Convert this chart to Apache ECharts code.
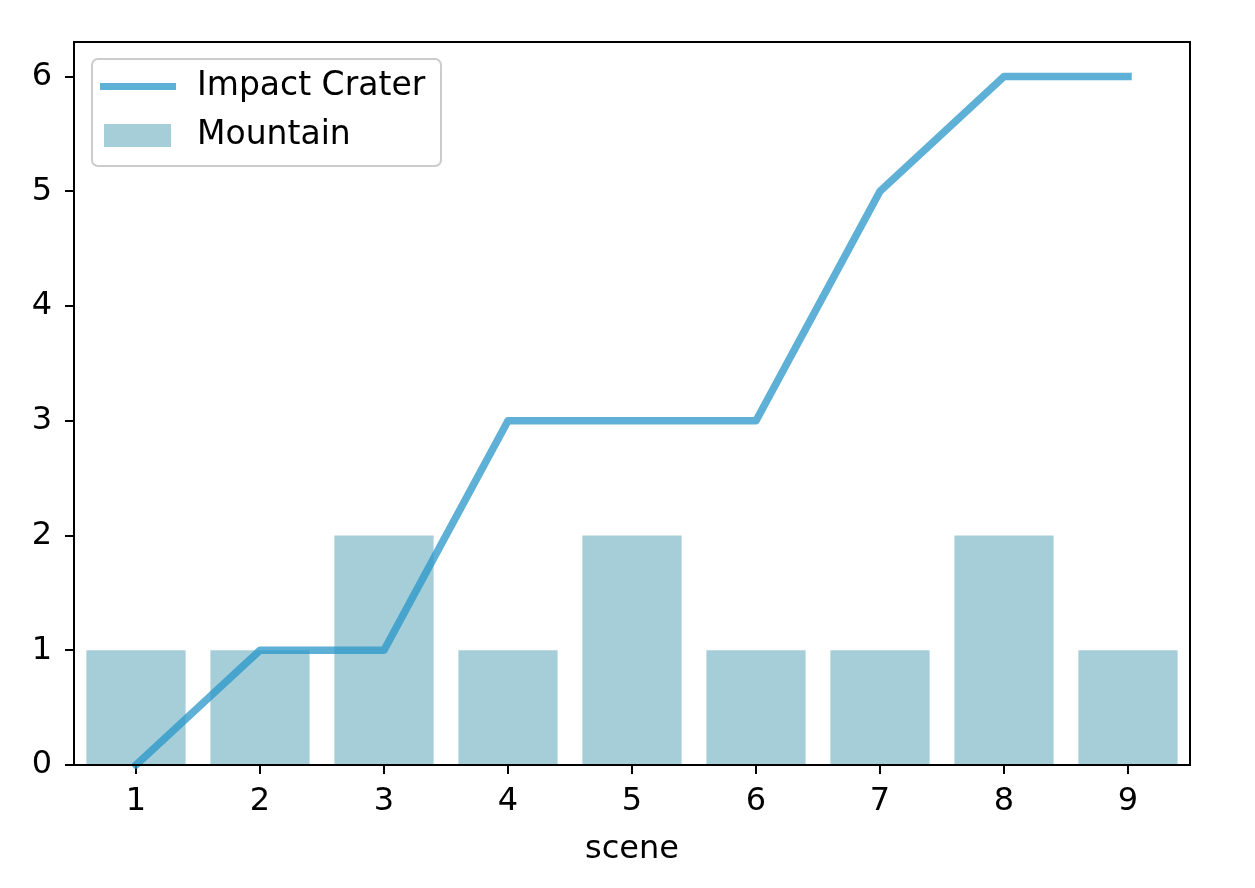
<!DOCTYPE html>
<html>
<head>
<meta charset="utf-8">
<script src="https://cdn.jsdelivr.net/npm/echarts@6/dist/echarts.min.js"></script>
<style>html,body{margin:0;padding:0;background:#fff}#c{width:1255px;height:888px}</style>
</head>
<body>
<div id="c"></div>
<script>
var categories = ['1','2','3','4','5','6','7','8','9'];
var impactCrater = [0,1,1,3,3,3,5,6,6];
var mountain = [1,1,2,1,2,1,1,2,1];
var yTicks = [0,1,2,3,4,5,6];

var FONT = 'DejaVu Sans';
var chart = echarts.init(document.getElementById('c'), null, {renderer:'canvas'});
chart.setOption({
  animation:false,
  backgroundColor:'#ffffff',
  textStyle:{fontFamily:FONT},
  grid:{left:74,right:65,top:42,bottom:123,show:true,borderColor:'#000',borderWidth:2,backgroundColor:'transparent',z:5},
  xAxis:{
    type:'category', data:categories, boundaryGap:true,
    name:'scene', nameLocation:'middle', nameGap:69,
    nameTextStyle:{fontFamily:FONT,fontSize:32,color:'#000'},
    axisLine:{show:true,lineStyle:{color:'#000',width:2}},
    axisTick:{show:true,alignWithLabel:true,length:9,lineStyle:{color:'#000',width:2}},
    axisLabel:{fontFamily:FONT,fontSize:32,color:'#000',margin:21},
    splitLine:{show:false}
  },
  yAxis:{
    type:'value', min:0, max:6.3, interval:1,
    axisLine:{show:true,lineStyle:{color:'#000',width:2}},
    axisTick:{show:true,length:9,customValues:yTicks,lineStyle:{color:'#000',width:2}},
    axisLabel:{fontFamily:FONT,fontSize:32,color:'#000',margin:22,customValues:yTicks,
      formatter:function(v){return yTicks.indexOf(v)>=0?String(v):'';}},
    splitLine:{show:false}
  },
  legend:[
    {data:[{name:'Impact Crater',icon:'rect'}],left:100,top:70,padding:0,itemWidth:76,itemHeight:7,
     textStyle:{fontFamily:FONT,fontSize:33,color:'#000',padding:[0,0,0,16]},z:10,selectedMode:false},
    {data:[{name:'Mountain',icon:'rect'}],left:104,top:119,padding:0,itemWidth:67,itemHeight:23,
     textStyle:{fontFamily:FONT,fontSize:33,color:'#000',padding:[0,0,0,21]},z:10,selectedMode:false}
  ],
  graphic:[{type:'rect',left:91,top:58,shape:{width:349,height:107,r:6},
    style:{fill:'rgba(255,255,255,0.8)',stroke:'#cccccc',lineWidth:2},z:8}],
  series:[
    {name:'Mountain',type:'bar',data:mountain,barCategoryGap:'20%',
     itemStyle:{color:'#a5ced8'},z:2},
    {name:'Impact Crater',type:'line',data:impactCrater,symbol:'none',smooth:false,
     lineStyle:{color:'rgba(40,150,200,0.75)',width:7.5,cap:'square',join:'round'},
     itemStyle:{color:'rgba(40,150,200,0.75)'},z:3}
  ]
});
</script>
</body>
</html>
